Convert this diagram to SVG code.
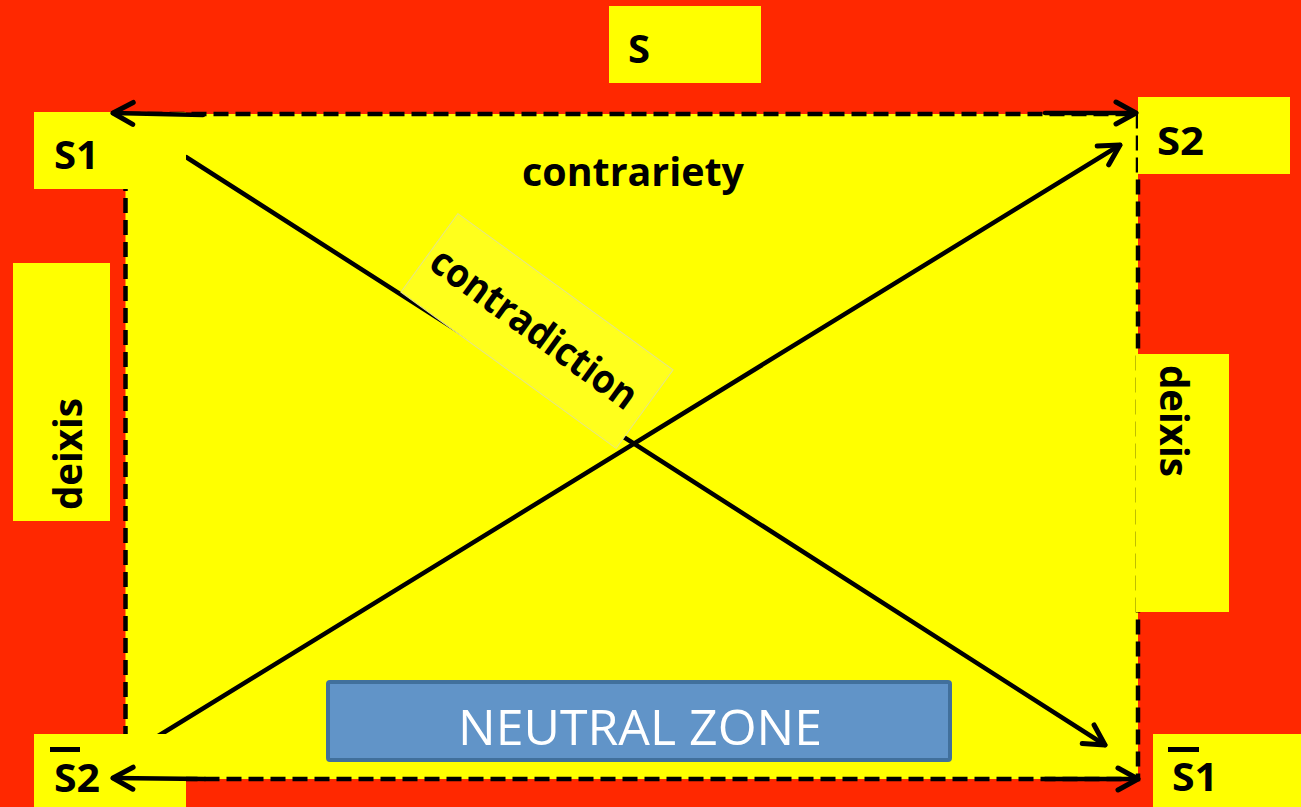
<svg xmlns="http://www.w3.org/2000/svg" width="1301" height="807" viewBox="0 0 1301 807">
<style>
.y{fill:#ffff00}
.lbl{font-family:"Open Sans",Lato,"Liberation Sans",sans-serif;font-weight:bold;font-size:40px;fill:#000}
.ln{stroke:#000;stroke-width:4.5;fill:none;stroke-linecap:round}
</style>
<defs>
<marker id="ah" markerUnits="userSpaceOnUse" viewBox="-24 -14 28 28" markerWidth="28" markerHeight="28" refX="0" refY="0" orient="auto" overflow="visible">
<path d="M-20,-11 L0,0 L-20,11" fill="none" stroke="#000" stroke-width="5" stroke-linecap="round" stroke-linejoin="round"/>
</marker>
</defs>
<rect x="0" y="0" width="1301" height="807" fill="#ff2800"/>
<g id="square">
<rect x="125.5" y="114" width="1012.5" height="665" fill="#ffff00" stroke="#000" stroke-width="4.5" stroke-dasharray="15 7"/>
</g>
<g id="connectors">
<line class="ln" x1="186" y1="157" x2="1105" y2="745" marker-end="url(#ah)"/>
<line class="ln" x1="150" y1="741" x2="1120" y2="145" marker-end="url(#ah)"/>
</g>
<g id="contradiction">
<g transform="translate(537,331) rotate(36)">
<rect x="-133" y="-48.5" width="266" height="97" fill="#ffff1c" stroke="#e4e48a" stroke-width="1"/>
<text class="lbl" x="-4" y="13" text-anchor="middle" font-size="38" textLength="245" lengthAdjust="spacingAndGlyphs">contradiction</text>
</g>
</g>
<g id="S">
<rect class="y" x="609" y="6" width="152" height="77"/>
<text class="lbl" x="628" y="63" textLength="22" lengthAdjust="spacingAndGlyphs">S</text>
</g>
<g id="S1">
<rect class="y" x="34" y="112" width="152" height="77"/>
<text class="lbl" x="54" y="169" textLength="45" lengthAdjust="spacingAndGlyphs">S1</text>
</g>
<g id="S2">
<rect class="y" x="1138" y="97" width="152" height="77"/>
<text class="lbl" x="1157" y="155" textLength="47" lengthAdjust="spacingAndGlyphs">S2</text>
</g>
<g id="notS2">
<rect class="y" x="34" y="734" width="152" height="73"/>
<rect x="50" y="747" width="30" height="5" fill="#000"/>
<text class="lbl" x="54" y="792" textLength="46" lengthAdjust="spacingAndGlyphs">S2</text>
</g>
<g id="notS1">
<rect class="y" x="1153" y="734" width="148" height="73"/>
<rect x="1168" y="747" width="31" height="5" fill="#000"/>
<text class="lbl" x="1172" y="791" textLength="46" lengthAdjust="spacingAndGlyphs">S1</text>
</g>
<g id="deixis-left">
<rect class="y" x="13" y="263" width="97" height="258"/>
<text class="lbl" transform="translate(82,454) rotate(-90)" text-anchor="middle" textLength="112" lengthAdjust="spacingAndGlyphs">deixis</text>
</g>
<g id="deixis-right">
<rect class="y" x="1136" y="354" width="93" height="258"/>
<text class="lbl" transform="translate(1160,421) rotate(90)" text-anchor="middle" textLength="112" lengthAdjust="spacingAndGlyphs">deixis</text>
</g>
<g id="contrariety">
<text class="lbl" x="633" y="186" text-anchor="middle" textLength="222" lengthAdjust="spacingAndGlyphs">contrariety</text>
</g>
<g id="arrows">
<line class="ln" x1="203" y1="115" x2="113" y2="113" marker-end="url(#ah)"/>
<line class="ln" x1="1045" y1="113" x2="1136" y2="113" marker-end="url(#ah)"/>
<line class="ln" x1="205" y1="779" x2="113" y2="778" marker-end="url(#ah)"/>
<line class="ln" x1="1045" y1="779" x2="1138" y2="779" marker-end="url(#ah)"/>
</g>
<g id="neutral">
<rect x="328" y="682" width="622" height="78" rx="2" fill="#6194c8" stroke="#41709c" stroke-width="4"/>
<text x="640" y="745" text-anchor="middle" font-family="'Open Sans',Lato,'Liberation Sans',sans-serif" font-size="50" fill="#fff" textLength="364" lengthAdjust="spacingAndGlyphs">NEUTRAL ZONE</text>
</g>
</svg>
